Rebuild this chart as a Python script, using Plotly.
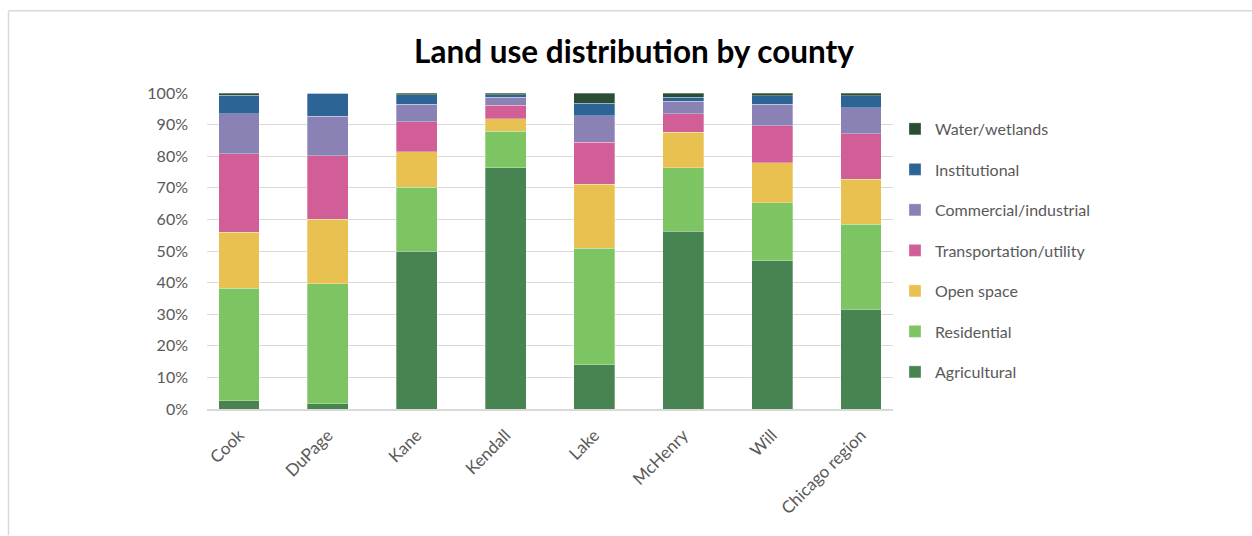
import plotly.graph_objects as go

counties = ["Cook", "DuPage", "Kane", "Kendall", "Lake", "McHenry", "Will", "Chicago region"]

agricultural = [2.6, 1.7, 50.0, 76.3, 14.0, 56.2, 46.9, 31.5]
residential = [35.6, 37.9, 20.2, 11.6, 36.9, 20.2, 18.4, 27.0]
open_space = [17.7, 20.4, 11.2, 4.0, 20.3, 11.2, 12.7, 14.2]
transportation = [24.9, 20.1, 9.5, 4.3, 13.2, 5.9, 11.6, 14.4]
commercial = [12.7, 12.5, 5.6, 2.5, 8.4, 3.9, 6.9, 8.3]
institutional = [5.8, 7.4, 2.9, 0.7, 4.0, 1.3, 2.6, 3.7]
water = [0.7, 0.0, 0.6, 0.6, 3.2, 1.3, 0.9, 0.9]

series = [
    ("Agricultural", agricultural, "#478452"),
    ("Residential", residential, "#7DC462"),
    ("Open space", open_space, "#E9C150"),
    ("Transportation/utility", transportation, "#D15E97"),
    ("Commercial/industrial", commercial, "#8A82B5"),
    ("Institutional", institutional, "#2D6496"),
    ("Water/wetlands", water, "#2B4E32"),
]

FONT = "Lato"
W, H = 1252, 536
L, R, T, B = 207, 359, 93, 126.5

fig = go.Figure()
n = len(series)
for i, (name, vals, col) in enumerate(series):
    fig.add_trace(go.Bar(
        x=counties, y=vals, name=name, legendgroup=name, legendrank=n - i,
        marker=dict(color=col, line=dict(color="rgba(255,255,255,0.5)", width=0.6)),
    ))

pw = W - L - R
ph = H - T - B
def px_x(p):
    return (p - L) / pw
def px_y(p):
    return (H - B - p) / ph

shapes = [
    dict(type="line", xref="paper", yref="paper", x0=px_x(8.5), x1=px_x(1252), y0=px_y(10.5), y1=px_y(10.5),
         line=dict(color="#d9d9d9", width=1.5)),
    dict(type="line", xref="paper", yref="paper", x0=px_x(8.5), x1=px_x(8.5), y0=px_y(10.5), y1=px_y(536),
         line=dict(color="#d9d9d9", width=1.5)),
]

fig.update_layout(
    width=W, height=H,
    barmode="stack", bargap=0.54,
    margin=dict(l=L, r=R, t=T, b=B, autoexpand=False),
    paper_bgcolor="white", plot_bgcolor="white",
    font=dict(family=FONT, color="#595959", size=16),
    title=dict(text="<b>Land use distribution by county</b>", x=634 / W, xref="container", xanchor="center",
               y=1 - 52 / H, yanchor="middle", yref="container",
               font=dict(family=FONT, size=31.5, color="#000000")),
    xaxis=dict(range=[-0.36, 7.36], tickangle=-45, showgrid=False, showline=True,
               linecolor="#d9d9d9", linewidth=1.5, ticks="", ticklabelstandoff=8,
               tickfont=dict(size=17, color="#595959")),
    yaxis=dict(range=[0, 100], dtick=10, ticksuffix="%", showgrid=True, gridcolor="#d9d9d9",
               gridwidth=1.2, zeroline=False, ticks="", ticklabelstandoff=18,
               tickfont=dict(size=16, color="#595959")),
    legend=dict(x=px_x(895), y=px_y(112), xanchor="left", yanchor="top",
                traceorder="grouped", tracegroupgap=16.7,
                font=dict(size=16, color="#595959"), itemwidth=30),
    shapes=shapes,
)

fig.write_html("out.html")
